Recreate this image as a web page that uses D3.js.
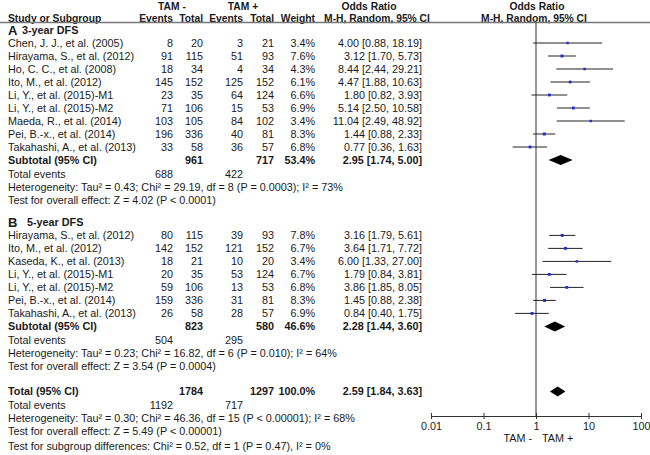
<!DOCTYPE html>
<html>
<head>
<meta charset="utf-8">
<script src="https://cdn.jsdelivr.net/npm/d3@7"></script>
<style>
  body { margin: 0; background: #fff; }
  svg text { font-family: "Liberation Sans", Arial, sans-serif; font-size: 10.8px; fill: #1a1a1a; }
  .b { font-weight: bold; }
</style>
</head>
<body>
<div id="chart"></div>
<script>
// data
// A: 3-year DFS
const aStudy = ['Chen, J. J., et al. (2005)', 'Hirayama, S., et al. (2012)', 'Ho, C. C., et al. (2008)',
  'Ito, M., et al. (2012)', 'Li, Y., et al. (2015)-M1', 'Li, Y., et al. (2015)-M2', 'Maeda, R., et al. (2014)',
  'Pei, B.-x., et al. (2014)', 'Takahashi, A., et al. (2013)']
const aEvNeg = [8, 91, 18, 145, 23, 71, 103, 196, 33]
const aTotNeg = [20, 115, 34, 152, 35, 106, 105, 336, 58]
const aEvPos = [3, 51, 4, 125, 64, 15, 84, 40, 36]
const aTotPos = [21, 93, 34, 152, 124, 53, 102, 81, 57]
const aWeight = ['3.4%', '7.6%', '4.3%', '6.1%', '6.6%', '6.9%', '3.4%', '8.3%', '6.8%']
const aOR = [4.00, 3.12, 8.44, 4.47, 1.80, 5.14, 11.04, 1.44, 0.77]
const aLo = [0.88, 1.70, 2.44, 1.88, 0.82, 2.50, 2.49, 0.88, 0.36]
const aHi = [18.19, 5.73, 29.21, 10.63, 3.93, 10.58, 48.92, 2.33, 1.63]
const aSub = { totNeg: 961, totPos: 717, weight: '53.4%', or: 2.95, lo: 1.74, hi: 5.00, evNeg: 688, evPos: 422 }
const aHet = 'Heterogeneity: Tau² = 0.43; Chi² = 29.19, df = 8 (P = 0.0003); I² = 73%'
const aTest = 'Test for overall effect: Z = 4.02 (P < 0.0001)'

// B: 5-year DFS
const bStudy = ['Hirayama, S., et al. (2012)', 'Ito, M., et al. (2012)', 'Kaseda, K., et al. (2013)',
  'Li, Y., et al. (2015)-M1', 'Li, Y., et al. (2015)-M2', 'Pei, B.-x., et al. (2014)', 'Takahashi, A., et al. (2013)']
const bEvNeg = [80, 142, 18, 20, 59, 159, 26]
const bTotNeg = [115, 152, 21, 35, 106, 336, 58]
const bEvPos = [39, 121, 10, 53, 13, 31, 28]
const bTotPos = [93, 152, 20, 124, 53, 81, 57]
const bWeight = ['7.8%', '6.7%', '3.4%', '6.7%', '6.8%', '8.3%', '6.9%']
const bOR = [3.16, 3.64, 6.00, 1.79, 3.86, 1.45, 0.84]
const bLo = [1.79, 1.71, 1.33, 0.84, 1.85, 0.88, 0.40]
const bHi = [5.61, 7.72, 27.00, 3.81, 8.05, 2.38, 1.75]
const bSub = { totNeg: 823, totPos: 580, weight: '46.6%', or: 2.28, lo: 1.44, hi: 3.60, evNeg: 504, evPos: 295 }
const bHet = 'Heterogeneity: Tau² = 0.23; Chi² = 16.82, df = 6 (P = 0.010); I² = 64%'
const bTest = 'Test for overall effect: Z = 3.54 (P = 0.0004)'

// overall
const tot = { totNeg: 1784, totPos: 1297, weight: '100.0%', or: 2.59, lo: 1.84, hi: 3.63, evNeg: 1192, evPos: 717 }
const totHet = 'Heterogeneity: Tau² = 0.30; Chi² = 46.36, df = 15 (P < 0.00001); I² = 68%'
const totTest = 'Test for overall effect: Z = 5.49 (P < 0.00001)'
const subgroupTest = 'Test for subgroup differences: Chi² = 0.52, df = 1 (P = 0.47), I² = 0%'

const axisTicks = [0.01, 0.1, 1, 10, 100]

const W = 650, H = 455
const svg = d3.select('#chart')
        .append('svg')
        .attr('width', W)
        .attr('height', H)

// column x positions (right edges for numbers)
const col = { name: 8, e1: 173, t1: 203, e2: 243, t2: 274, w: 315, ci: 422 }

// rows: index -> y
const yRow = d3.scaleLinear().domain([0, 1]).range([30, 43])
const rowA = 0, rowB = 14.8, rowTot = 27.8

const xScale = d3.scaleLog()
        .domain([0.01, 100])
        .range([431, 641])

const f2 = d3.format('.2f')
const ciText = (o, l, h) => `${f2(o)} [${f2(l)}, ${f2(h)}]`

function txt(x, y, s, anchor, bold, size) {
        const t = svg.append('text')
                .attr('x', x)
                .attr('y', y)
                .attr('dy', '0.36em')
                .attr('text-anchor', anchor || 'start')
                .text(s)
        if (bold) t.attr('class', 'b')
        if (size) t.style('font-size', size + 'px')
        return t
}

// header (two lines)
const hy1 = 6.2, hy2 = 17.9, hs = 10.3
txt(172, hy1, 'TAM -', 'middle', true, hs)
txt(243, hy1, 'TAM +', 'middle', true, hs)
txt(369, hy1, 'Odds Ratio', 'middle', true, hs)
txt(537, hy1, 'Odds Ratio', 'middle', true, hs)
txt(col.name, hy2, 'Study or Subgroup', 'start', true, hs)
txt(col.e1, hy2, 'Events', 'end', true, hs)
txt(col.t1, hy2, 'Total', 'end', true, hs)
txt(col.e2, hy2, 'Events', 'end', true, hs)
txt(col.t2, hy2, 'Total', 'end', true, hs)
txt(col.w, hy2, 'Weight', 'end', true, hs)
txt(377, hy2, 'M-H, Random, 95% CI', 'middle', true, hs)
txt(534, hy2, 'M-H, Random, 95% CI', 'middle', true, hs)

svg.append('line')
        .attr('x1', 0).attr('x2', W)
        .attr('y1', 22.5).attr('y2', 22.5)
        .attr('stroke', '#777')
        .attr('stroke-width', 1.4)

// null line at OR = 1
svg.append('line')
        .attr('x1', xScale(1)).attr('x2', xScale(1))
        .attr('y1', 22.5).attr('y2', 416)
        .attr('stroke', '#555')
        .attr('stroke-width', 1.2)

function diamond(r, o, l, h) {
        const y = yRow(r)
        svg.append('path')
                .attr('d', `M${xScale(l)},${y}L${xScale(o)},${y - 5}L${xScale(h)},${y}L${xScale(o)},${y + 5}Z`)
                .attr('fill', '#000')
}

function group(start, label, title, study, evN, totN, evP, totP, wt, or, lo, hi, sub, het, test, titleX) {
        txt(col.name, yRow(start), label, 'start', true, 13)
        txt(titleX, yRow(start), title, 'start', true)
        study.forEach((s, i) => {
                const r = start + 1 + i
                const y = yRow(r)
                txt(col.name, y, s)
                txt(col.e1, y, evN[i], 'end')
                txt(col.t1, y, totN[i], 'end')
                txt(col.e2, y, evP[i], 'end')
                txt(col.t2, y, totP[i], 'end')
                txt(col.w, y, wt[i], 'end')
                txt(col.ci, y, ciText(or[i], lo[i], hi[i]), 'end')
                svg.append('line')
                        .attr('x1', xScale(lo[i])).attr('x2', xScale(hi[i]))
                        .attr('y1', y).attr('y2', y)
                        .attr('stroke', '#222')
                        .attr('stroke-width', 1)
                // square size follows weight
                const sz = 2 + parseFloat(wt[i]) * 0.12
                svg.append('rect')
                        .attr('x', xScale(or[i]) - sz / 2)
                        .attr('y', y - sz / 2)
                        .attr('width', sz)
                        .attr('height', sz)
                        .attr('fill', '#1a2fd0')
        })
        const rs = start + 1 + study.length
        txt(col.name, yRow(rs), 'Subtotal (95% CI)', 'start', true)
        txt(col.t1, yRow(rs), sub.totNeg, 'end', true)
        txt(col.t2, yRow(rs), sub.totPos, 'end', true)
        txt(col.w, yRow(rs), sub.weight, 'end', true)
        txt(col.ci, yRow(rs), ciText(sub.or, sub.lo, sub.hi), 'end', true)
        diamond(rs, sub.or, sub.lo, sub.hi)
        txt(col.name, yRow(rs + 1.05), 'Total events')
        txt(col.e1, yRow(rs + 1.05), sub.evNeg, 'end')
        txt(col.e2, yRow(rs + 1.05), sub.evPos, 'end')
        txt(col.name, yRow(rs + 2.05), het)
        txt(col.name, yRow(rs + 3.05), test)
}

group(rowA, 'A', '3-year DFS', aStudy, aEvNeg, aTotNeg, aEvPos, aTotPos, aWeight, aOR, aLo, aHi, aSub, aHet, aTest, 22)
group(rowB, 'B', '5-year DFS', bStudy, bEvNeg, bTotNeg, bEvPos, bTotPos, bWeight, bOR, bLo, bHi, bSub, bHet, bTest, 27)

// overall total
const yT = yRow(rowTot)
txt(col.name, yT, 'Total (95% CI)', 'start', true)
txt(col.t1, yT, tot.totNeg, 'end', true)
txt(col.t2, yT, tot.totPos, 'end', true)
txt(col.w, yT, tot.weight, 'end', true)
txt(col.ci, yT, ciText(tot.or, tot.lo, tot.hi), 'end', true)
diamond(rowTot, tot.or, tot.lo, tot.hi)
txt(col.name, yRow(rowTot + 1.05), 'Total events')
txt(col.e1, yRow(rowTot + 1.05), tot.evNeg, 'end')
txt(col.e2, yRow(rowTot + 1.05), tot.evPos, 'end')
txt(col.name, yRow(rowTot + 2.05), totHet)
txt(col.name, yRow(rowTot + 3.05), totTest)
txt(col.name, yRow(rowTot + 4.2), subgroupTest)

// log axis
const xAxis = d3.axisBottom(xScale)
        .tickValues(axisTicks)
        .tickFormat(d => d)
        .tickSizeInner(3)
        .tickSizeOuter(0)
        .tickPadding(3)
const axisG = svg.append('g')
        .attr('transform', `translate(0,416)`)
        .call(xAxis)
axisG.select('.domain').attr('stroke', '#333')
axisG.selectAll('.tick line').attr('y1', -3).attr('stroke', '#333')
axisG.selectAll('.tick text')
        .style('font-family', '"Liberation Sans", Arial, sans-serif')
        .style('font-size', '10.8px')
        .attr('fill', '#1a1a1a')

txt(xScale(1) - 4, 438, 'TAM -', 'end')
txt(xScale(1) + 6, 438, 'TAM +', 'start')
</script>
</body>
</html>
